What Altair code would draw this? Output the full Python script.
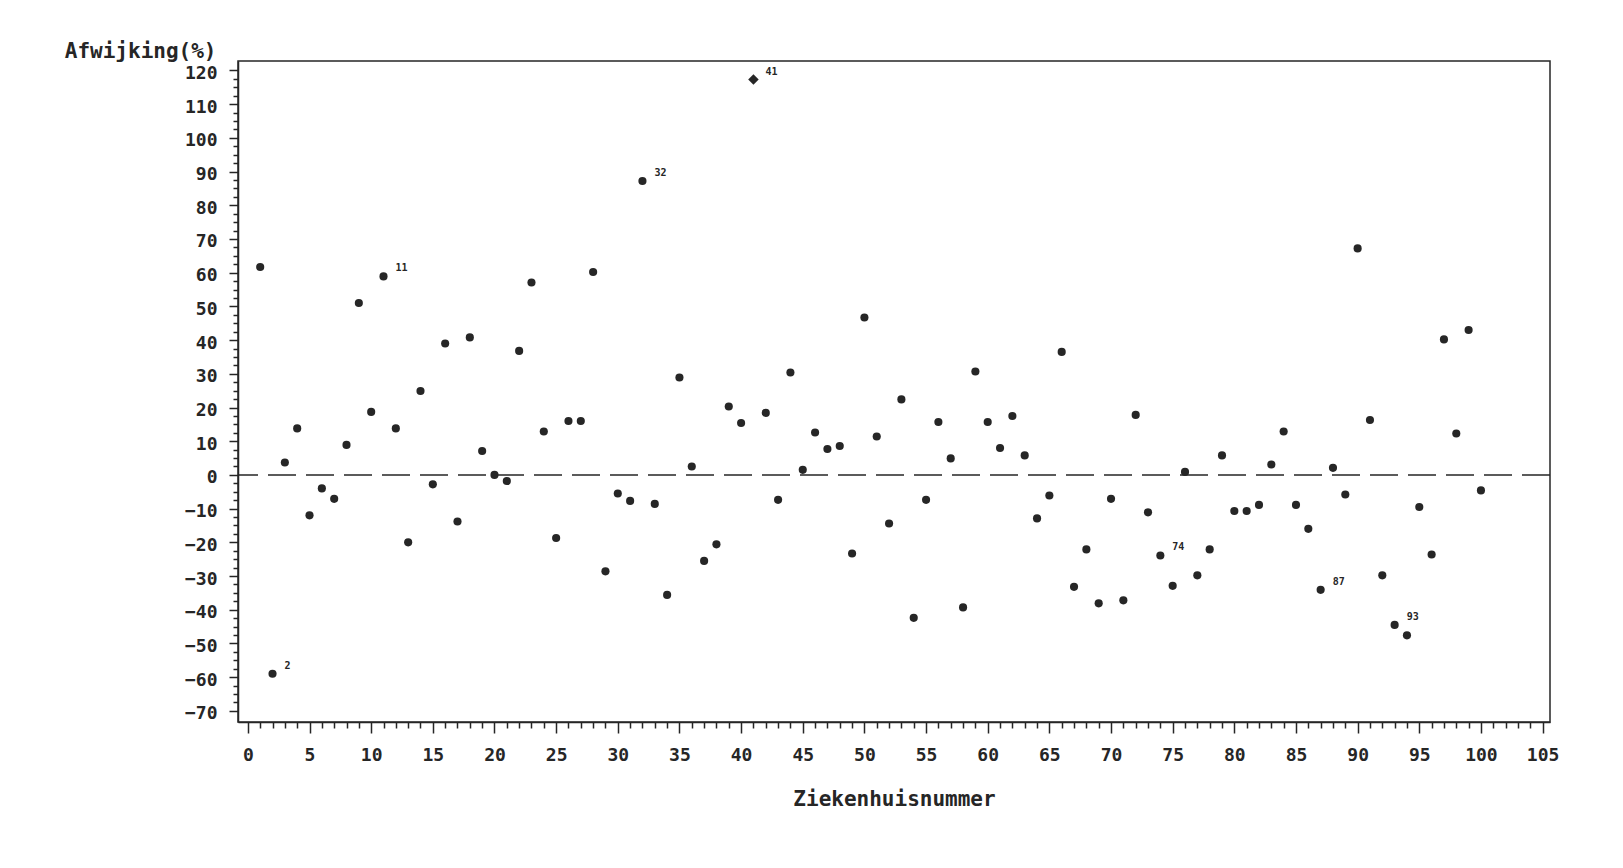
import altair as alt
import pandas as pd

# ---- data ----
hospital = list(range(1, 101))
deviation = [
    61.7, -59.0, 3.7, 13.8, -12.0, -4.0, -7.1, 8.9, 51.0, 18.7,
    58.9, 13.8, -20.0, 24.9, -2.8, 39.0, -13.8, 40.8, 7.1, 0.0,
    -1.8, 36.8, 57.1, 12.9, -18.7, 16.0, 16.0, 60.2, -28.6, -5.5,
    -7.7, 87.2, -8.6, -35.6, 28.9, 2.5, -25.5, -20.6, 20.3, 15.4,
    117.3, 18.4, -7.4, 30.4, 1.5, 12.6, 7.7, 8.6, -23.3, 46.7,
    11.4, -14.4, 22.4, -42.4, -7.4, 15.7, 4.9, -39.3, 30.7, 15.7,
    8.0, 17.5, 5.8, -12.9, -6.1, 36.5, -33.2, -22.1, -38.1, -7.1,
    -37.2, 17.8, -11.1, -23.9, -32.9, 0.9, -29.8, -22.1, 5.8, -10.7,
    -10.7, -8.9, 3.1, 12.9, -8.9, -16.0, -34.1, 2.1, -5.8, 67.2,
    16.3, -29.8, -44.5, -47.6, -9.5, -23.6, 40.2, 12.3, 43.0, -4.6,
]
labelled = [2, 11, 32, 41, 74, 87, 93]
reference_line = [0]

x_ticks = list(range(0, 106))          # minor every 1, labelled every 5
y_ticks = [-70 + 2.5 * i for i in range(77)]  # minor every 2.5, labelled every 10

x_title = "Ziekenhuisnummer"
y_title = "Afwijking(%)"

df = pd.DataFrame({
    "nr": hospital,
    "afw": deviation,
    "label": [str(n) if n in labelled else "" for n in hospital],
})
zero_df = pd.DataFrame({"afw": reference_line})

INK = "#262626"
FONT = "DejaVu Sans Mono"

x_scale = alt.Scale(domain=[-0.8, 105.6], nice=False, zero=False)
y_scale = alt.Scale(domain=[-73.3, 122.8], nice=False, zero=False)


def make_x_axis():
    return alt.Axis(
        values=x_ticks,
        labelExpr="datum.value % 5 === 0 ? datum.label : ''",
        labelOverlap=False,
        tickSize={"condition": {"test": "datum.value % 5 === 0", "value": 11}, "value": 6},
        tickColor=INK, tickWidth=1.5,
        domainColor=INK, domainWidth=1.5,
        grid=False,
        labelFont=FONT, labelFontSize=18, labelFontWeight="bold", labelColor=INK,
        labelPadding=13,
        title=x_title, titleFont=FONT, titleFontSize=21, titleFontWeight="bold",
        titleColor=INK, titleBaseline="middle", titleY=77,
    )


def make_y_axis():
    return alt.Axis(
        values=y_ticks,
        labelExpr="datum.value % 10 === 0 ? datum.label : ''",
        labelOverlap=False,
        tickSize={"condition": {"test": "datum.value % 10 === 0", "value": 9}, "value": 5},
        tickColor=INK, tickWidth=1.5,
        domainColor=INK, domainWidth=1.5,
        grid=False,
        labelFont=FONT, labelFontSize=18, labelFontWeight="bold", labelColor=INK,
        labelPadding=12, labelOffset=3,
        title=y_title, titleFont=FONT, titleFontSize=21, titleFontWeight="bold",
        titleColor=INK, titleAngle=0, titleAlign="right", titleBaseline="middle",
        titleX=-22, titleY=-10,
    )


points = alt.Chart(df).mark_point(
    filled=True, opacity=1, color=INK
).encode(
    x=alt.X("nr:Q", scale=x_scale, axis=make_x_axis()),
    y=alt.Y("afw:Q", scale=y_scale, axis=make_y_axis()),
    shape=alt.condition("datum.nr === 41", alt.value("diamond"), alt.value("circle")),
    size=alt.condition("datum.nr === 41", alt.value(110), alt.value(66)),
)

zero = alt.Chart(zero_df).mark_rule(
    color=INK, strokeWidth=1.5, strokeDash=[28, 10]
).encode(y=alt.Y("afw:Q", scale=y_scale, axis=make_y_axis()))

labels = alt.Chart(df).transform_filter("datum.label != ''").mark_text(
    align="left", baseline="middle", dx=12, dy=-8,
    font=FONT, fontSize=10, fontWeight="bold", color=INK,
).encode(
    x=alt.X("nr:Q", scale=x_scale, axis=make_x_axis()),
    y=alt.Y("afw:Q", scale=y_scale, axis=make_y_axis()),
    text="label:N",
)

chart = alt.layer(points, zero, labels).properties(
    width=1312, height=661,
    autosize=alt.AutoSizeParams(type="none"),
    padding={"left": 238, "top": 61, "right": 73, "bottom": 146},
    background="#ffffff",
).configure_view(stroke=INK, strokeWidth=1.5)

chart.save("out.html", embed_options={"renderer": "svg", "actions": False})
